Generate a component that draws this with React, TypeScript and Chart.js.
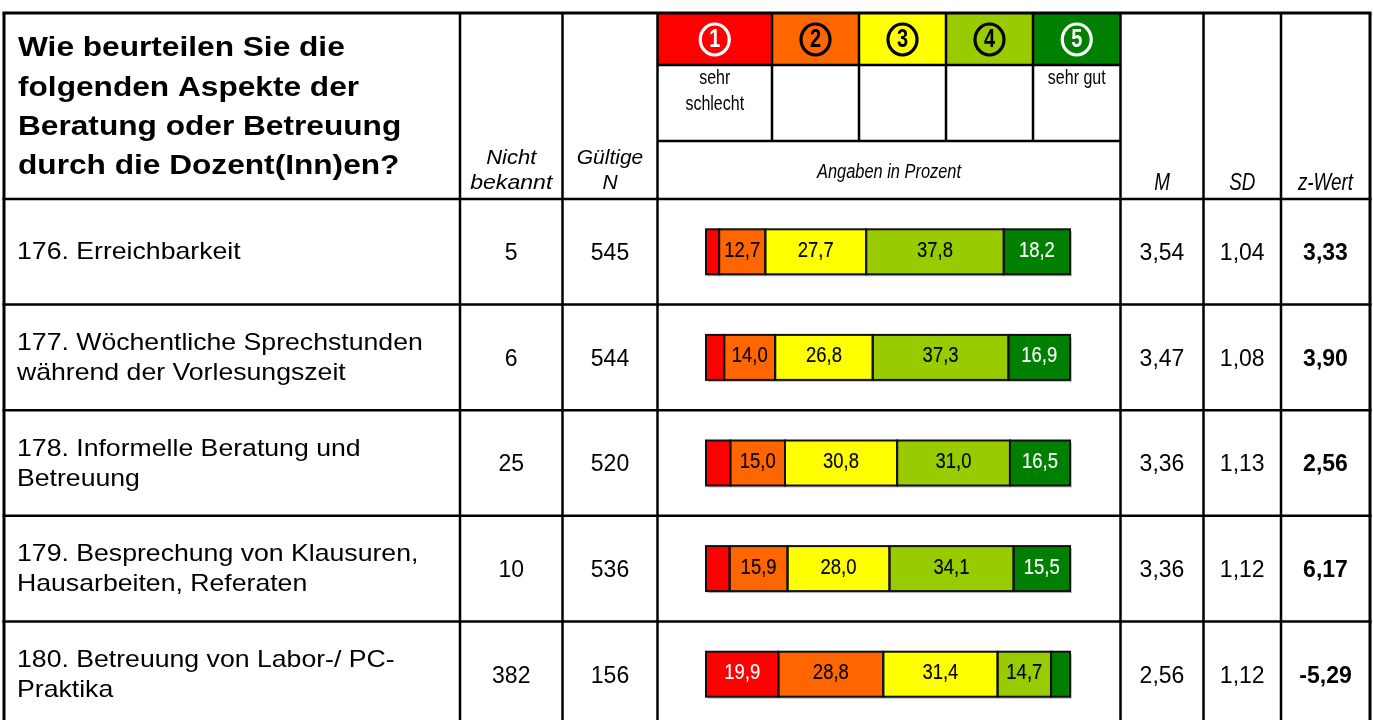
import React, { useEffect, useRef } from "react";
import { Chart, registerables } from "chart.js";
Chart.register(...registerables);

// ---------- data ----------
const categories = ["176", "177", "178", "179", "180"];
const questionLines = [
  ["176. Erreichbarkeit"],
  ["177. Wöchentliche Sprechstunden", "während der Vorlesungszeit"],
  ["178. Informelle Beratung und", "Betreuung"],
  ["179. Besprechung von Klausuren,", "Hausarbeiten, Referaten"],
  ["180. Betreuung von Labor-/ PC-", "Praktika"],
];
const nichtBekannt = ["5", "6", "25", "10", "382"];
const gueltigeN = ["545", "544", "520", "536", "156"];
const meanM = ["3,54", "3,47", "3,36", "3,36", "2,56"];
const sdValues = ["1,04", "1,08", "1,13", "1,12", "1,12"];
const zWert = ["3,33", "3,90", "2,56", "6,17", "-5,29"];

const ratingNames = ["sehr schlecht", "2", "3", "4", "sehr gut"];
const sehrSchlecht = [3.6, 5.0, 6.7, 6.5, 19.9];
const schlecht = [12.7, 14.0, 15.0, 15.9, 28.8];
const mittel = [27.7, 26.8, 30.8, 28.0, 31.4];
const gut = [37.8, 37.3, 31.0, 34.1, 14.7];
const sehrGut = [18.2, 16.9, 16.5, 15.5, 5.2];
const series = [sehrSchlecht, schlecht, mittel, gut, sehrGut];

const colors = ["#FF0000", "#FF6600", "#FFFF00", "#99CC00", "#008000"];
const labelColors = ["#FFFFFF", "#000000", "#000000", "#000000", "#FFFFFF"];

// ---------- layout ----------
const W = 1373;
const H = 740;
const SANS = "'Liberation Sans', Arial, Helvetica, sans-serif";
const colX = [4, 460, 562.5, 657.5, 1120.5, 1203.5, 1281, 1370];
const headCols = [657.5, 772, 859, 946, 1033, 1120.5];
const tableTop = 13;
const headRow1 = 65;
const headRow2 = 141;

function txt(
  ctx: CanvasRenderingContext2D,
  s: string,
  x: number,
  y: number,
  font: string,
  color: string,
  align: CanvasTextAlign = "center",
  sx = 1,
  embolden = 0
) {
  ctx.save();
  ctx.translate(x, y);
  ctx.scale(sx, 1);
  ctx.font = font;
  ctx.fillStyle = color;
  ctx.textAlign = align;
  ctx.textBaseline = "middle";
  ctx.fillText(s, 0, 0);
  if (embolden > 0) {
    ctx.strokeStyle = color;
    ctx.lineWidth = embolden;
    ctx.strokeText(s, 0, 0);
  }
  ctx.restore();
}

function line(ctx: CanvasRenderingContext2D, x1: number, y1: number, x2: number, y2: number, w = 2.5) {
  ctx.save();
  ctx.strokeStyle = "#000";
  ctx.lineWidth = w;
  ctx.beginPath();
  ctx.moveTo(x1, y1);
  ctx.lineTo(x2, y2);
  ctx.stroke();
  ctx.restore();
}

const tablePlugin = {
  id: "tablePlugin",
  beforeDatasetsDraw(chart: any) {
    const ctx: CanvasRenderingContext2D = chart.ctx;
    // header colour cells
    for (let k = 0; k < 5; k++) {
      ctx.fillStyle = colors[k];
      ctx.fillRect(headCols[k], tableTop, headCols[k + 1] - headCols[k], headRow1 - tableTop);
    }
    // light shadow behind bars
    const n = chart.data.labels.length;
    const first = chart.getDatasetMeta(0);
    const last = chart.getDatasetMeta(series.length - 1);
    for (let i = 0; i < n; i++) {
      const a = first.data[i].getProps(["x", "y", "base", "height"], true);
      const b = last.data[i].getProps(["x", "y", "base", "height"], true);
      ctx.fillStyle = "#c0c0c0";
      ctx.fillRect(a.base + 2, a.y - a.height / 2 + 2, b.x - a.base, a.height);
    }
  },
  afterDatasetsDraw(chart: any) {
    const ctx: CanvasRenderingContext2D = chart.ctx;
    const n = chart.data.labels.length;
    // bar borders + value labels
    chart.data.datasets.forEach((ds: any, k: number) => {
      const meta = chart.getDatasetMeta(k);
      meta.data.forEach((el: any, i: number) => {
        const p = el.getProps(["x", "y", "base", "height"], true);
        const left = Math.min(p.base, p.x);
        const right = Math.max(p.base, p.x);
        const top = p.y - p.height / 2;
        ctx.save();
        ctx.strokeStyle = "#111";
        ctx.lineWidth = 2;
        ctx.strokeRect(left, top, right - left, p.height);
        ctx.restore();
        const v = ds.data[i];
        if (v >= 10) {
          txt(ctx, v.toFixed(1).replace(".", ","), (left + right) / 2, p.y - 1, `22px ${SANS}`, labelColors[k], "center", 0.84, 0.15);
        }
      });
    });

    // table grid
    const ys = chart.scales.y;
    const area = chart.chartArea;
    const pitch = (area.bottom - area.top) / n;
    const bottom = area.top + pitch * n;
    for (const x of colX) line(ctx, x, tableTop, x, bottom, x === 4 || x === 1370 ? 3 : 2.5);
    line(ctx, 2.5, tableTop, 1371.5, tableTop, 3);
    for (let i = 0; i < n; i++) {
      const yTop = ys.getPixelForValue(i) - pitch / 2;
      line(ctx, 2.5, yTop, 1371.5, yTop, 2.5);
    }
    for (let k = 1; k < 5; k++) line(ctx, headCols[k], tableTop, headCols[k], headRow2, 2.5);
    line(ctx, headCols[0], headRow1, headCols[5], headRow1, 2.5);
    line(ctx, headCols[0], headRow2, headCols[5], headRow2, 2.5);

    // header texts
    const title = ["Wie beurteilen Sie die", "folgenden Aspekte der", "Beratung oder Betreuung", "durch die Dozent(Inn)en?"];
    title.forEach((t, j) => txt(ctx, t, 18, 48.5 + j * 39.3, `bold 28px ${SANS}`, "#000", "left", 1.13));
    const c1 = (colX[1] + colX[2]) / 2;
    const c2 = (colX[2] + colX[3]) / 2;
    txt(ctx, "Nicht", c1, 158, `italic 21px ${SANS}`, "#000", "center", 1.05);
    txt(ctx, "bekannt", c1, 183, `italic 21px ${SANS}`, "#000", "center", 1.1);
    txt(ctx, "Gültige", c2, 158, `italic 21px ${SANS}`, "#000");
    txt(ctx, "N", c2, 183, `italic 21px ${SANS}`, "#000");
    txt(ctx, "M", (colX[4] + colX[5]) / 2, 184, `italic 23px ${SANS}`, "#000", "center", 0.82);
    txt(ctx, "SD", (colX[5] + colX[6]) / 2, 184, `italic 23px ${SANS}`, "#000", "center", 0.82);
    txt(ctx, "z-Wert", (colX[6] + colX[7]) / 2, 184, `italic 23px ${SANS}`, "#000", "center", 0.82);
    txt(ctx, "Angaben in Prozent", (headCols[0] + headCols[5]) / 2, 172, `italic 20px ${SANS}`, "#000", "center", 0.82);
    const r0 = (headCols[0] + headCols[1]) / 2;
    const r4 = (headCols[4] + headCols[5]) / 2;
    txt(ctx, "sehr", r0, 78, `20px ${SANS}`, "#000", "center", 0.8);
    txt(ctx, "schlecht", r0, 104, `20px ${SANS}`, "#000", "center", 0.8);
    txt(ctx, "sehr gut", r4, 78, `20px ${SANS}`, "#000", "center", 0.8);

    // circled numbers
    for (let k = 0; k < 5; k++) {
      const cx = (headCols[k] + headCols[k + 1]) / 2;
      const cy = 39.5;
      ctx.save();
      ctx.strokeStyle = labelColors[k];
      ctx.lineWidth = 3.2;
      ctx.beginPath();
      ctx.ellipse(cx, cy, 14.5, 15.5, 0, 0, Math.PI * 2);
      ctx.stroke();
      ctx.restore();
      txt(ctx, String(k + 1), cx, cy + 1, `bold 25px ${SANS}`, labelColors[k], "center", 0.8);
    }

    // row texts
    for (let i = 0; i < n; i++) {
      const cy = ys.getPixelForValue(i);
      const lines = questionLines[i];
      lines.forEach((t, j) => {
        const off = lines.length === 1 ? 1 : (j === 0 ? -14 : 16);
        txt(ctx, t, 17, cy + off, `24px ${SANS}`, "#000", "left", 1.11);
      });
      txt(ctx, nichtBekannt[i], c1, cy + 2, `23px ${SANS}`, "#000");
      txt(ctx, gueltigeN[i], c2, cy + 2, `23px ${SANS}`, "#000");
      txt(ctx, meanM[i], (colX[4] + colX[5]) / 2, cy + 2, `23px ${SANS}`, "#000");
      txt(ctx, sdValues[i], (colX[5] + colX[6]) / 2, cy + 2, `23px ${SANS}`, "#000");
      txt(ctx, zWert[i], (colX[6] + colX[7]) / 2, cy + 2, `bold 23px ${SANS}`, "#000");
    }
  },
};

export default function App() {
  const ref = useRef<HTMLCanvasElement>(null);
  useEffect(() => {
    document.body.style.margin = "0";
    document.body.style.overflow = "hidden";
    document.documentElement.style.overflow = "hidden";
    const chart = new Chart(ref.current as HTMLCanvasElement, {
      type: "bar",
      data: {
        labels: categories,
        datasets: series.map((d, k) => ({
          label: ratingNames[k],
          data: d,
          backgroundColor: colors[k],
          borderWidth: 0,
          barThickness: 45,
        })),
      },
      options: {
        indexAxis: "y",
        responsive: false,
        animation: false,
        devicePixelRatio: 1,
        layout: { padding: { left: 706, right: W - 1070, top: 199, bottom: H - 727 } },
        scales: {
          x: { stacked: true, min: 0, max: 100, display: false },
          y: { stacked: true, display: false },
        },
        plugins: { legend: { display: false }, tooltip: { enabled: false } },
      },
      plugins: [tablePlugin],
    } as any);
    return () => chart.destroy();
  }, []);
  return <canvas ref={ref} width={W} height={H} style={{ display: "block", background: "#fff" }} />;
}
